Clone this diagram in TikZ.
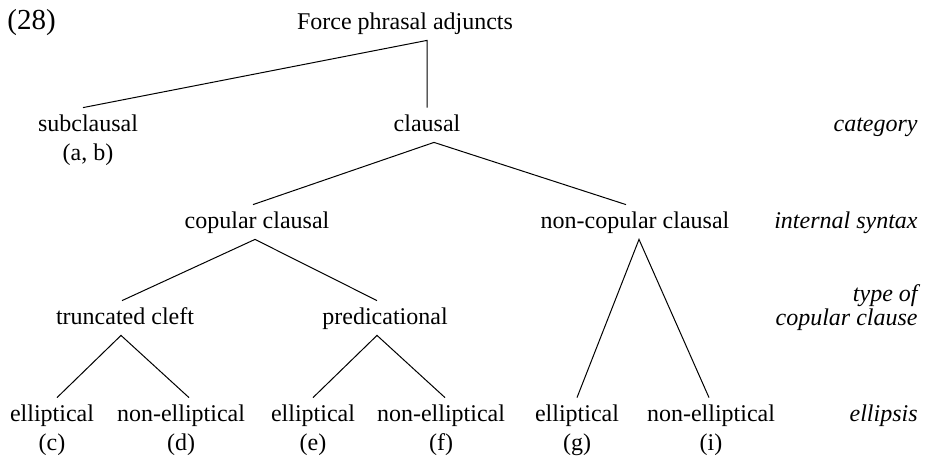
\documentclass[tikz,border=0pt]{standalone}
\usepackage{fontspec}
\setmainfont{Liberation Serif}
\usetikzlibrary{positioning}

\tikzset{
  lbl/.style={font=\fontsize{12}{14}\selectfont, inner sep=2.5pt, text height=9pt, text depth=3pt},
  cat/.style={lbl, anchor=base},
  dim/.style={lbl, font=\fontsize{12}{14}\selectfont\itshape, anchor=base east},
  ex/.style={lbl, below of=#1, node distance=14.5pt},
  branch/.style={line width=0.5pt}
}

\begin{document}
\begin{tikzpicture}[x=0.5pt, y=-0.5pt]
  \useasboundingbox (0,0) rectangle (925,461);

  \node[lbl, font=\fontsize{14.5}{16}\selectfont, anchor=base west] (num) at (2,29) {(28)};
  \node[cat] (root) at (405,29) {Force phrasal adjuncts};

  % category
  \node[cat] (sub) at (88,131) {subclausal};
  \node[cat] (clausal) at (427,131) {clausal};
  \node[ex=sub] (ab) {(a, b)};

  % internal syntax
  \node[cat] (cop) at (257,228) {copular clausal};
  \node[cat] (noncop) at (635,228) {non-copular clausal};

  % type of copular clause
  \node[cat] (trunc) at (125,324) {truncated cleft};
  \node[cat] (pred) at (385,324) {predicational};

  % ellipsis
  \node[cat] (ellc) at (52,421) {elliptical};
  \node[cat] (nelld) at (181,421) {non-elliptical};
  \node[cat] (elle) at (313,421) {elliptical};
  \node[cat] (nellf) at (441,421) {non-elliptical};
  \node[cat] (ellg) at (577,421) {elliptical};
  \node[cat] (nelli) at (711,421) {non-elliptical};
  \node[ex=ellc] (c) {(c)};
  \node[ex=nelld] (d) {(d)};
  \node[ex=elle] (e) {(e)};
  \node[ex=nellf] (f) {(f)};
  \node[ex=ellg] (g) {(g)};
  \node[ex=nelli] (i) {(i)};

  % dimensions on the right
  \node[dim] (dcat) at (923,131) {category};
  \node[dim] (dsyn) at (923,228) {internal syntax};
  \node[dim] (dtype) at (923,301) {type of};
  \node[dim] (dcop) at (923,325) {copular clause};
  \node[dim] (dell) at (923,421) {ellipsis};

  \draw[branch] ([xshift=-2.5pt]sub.north) -- ([xshift=11pt]root.south) -- (clausal.north);
  \draw[branch] ([xshift=-2pt]cop.north) -- ([xshift=3.5pt]clausal.south) -- ([xshift=-4.5pt]noncop.north);
  \draw[branch] ([xshift=-1.5pt]trunc.north) -- ([xshift=-1pt]cop.south) -- ([xshift=-4pt]pred.north);
  \draw[branch] (ellg.north) -- ([xshift=2pt]noncop.south) -- ([xshift=-1pt]nelli.north);
  \draw[branch] ([xshift=2.5pt]ellc.north) -- ([xshift=-2pt]trunc.south) -- ([xshift=4pt]nelld.north);
  \draw[branch] (elle.north) -- ([xshift=-4pt]pred.south) -- ([xshift=2pt]nellf.north);
\end{tikzpicture}
\end{document}
